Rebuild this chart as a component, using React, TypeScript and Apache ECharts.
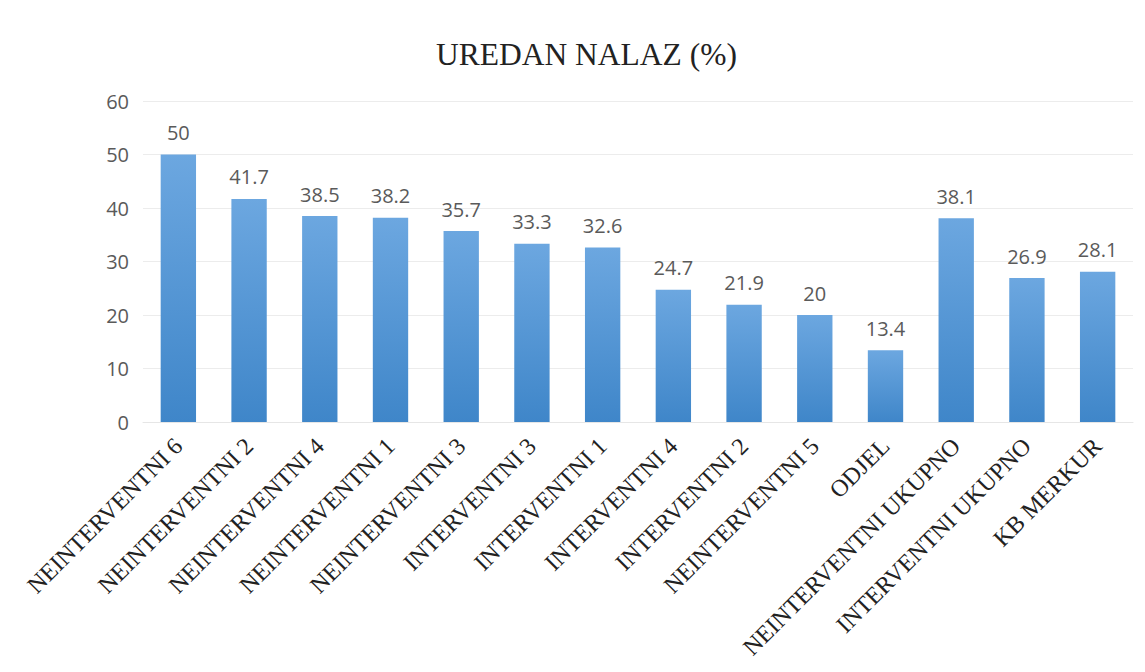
import React, { useEffect, useRef } from "react";
import * as echarts from "echarts";

const categories = [
  "NEINTERVENTNI 6",
  "NEINTERVENTNI 2",
  "NEINTERVENTNI 4",
  "NEINTERVENTNI 1",
  "NEINTERVENTNI 3",
  "INTERVENTNI 3",
  "INTERVENTNI 1",
  "INTERVENTNI 4",
  "INTERVENTNI 2",
  "NEINTERVENTNI 5",
  "ODJEL",
  "NEINTERVENTNI UKUPNO",
  "INTERVENTNI UKUPNO",
  "KB MERKUR",
];
const values = [50, 41.7, 38.5, 38.2, 35.7, 33.3, 32.6, 24.7, 21.9, 20, 13.4, 38.1, 26.9, 28.1];
const titleText = "UREDAN NALAZ (%)";

export default function App() {
  const ref = useRef<HTMLDivElement>(null);
  useEffect(() => {
    if (!ref.current) return;
    const chart = echarts.init(ref.current, null, { renderer: "svg" });
    chart.setOption({
      animation: false,
      backgroundColor: "#ffffff",
      title: {
        text: titleText,
        left: 423,
        top: 25,
        textStyle: {
          fontFamily: "Liberation Serif",
          fontSize: 31.5,
          fontWeight: "normal",
          color: "#222222",
        },
      },
      grid: { left: 135, right: 4, top: 93, bottom: 242, containLabel: false },
      xAxis: {
        type: "category",
        data: categories,
        axisLine: { show: true, lineStyle: { color: "#e6e6e6", width: 1 } },
        axisTick: { show: false },
        axisLabel: {
          rotate: 45,
          interval: 0,
          margin: 20,
          fontFamily: "Liberation Serif",
          fontSize: 24,
          color: "#222222",
        },
      },
      yAxis: {
        type: "value",
        min: 0,
        max: 60,
        interval: 10,
        axisLine: { show: false },
        axisTick: { show: false },
        splitLine: { lineStyle: { color: "#ececec", width: 1 } },
        axisLabel: {
          margin: 14,
          fontFamily: "Open Sans",
          fontSize: 20,
          color: "#5a5a5a",
        },
      },
      series: [
        {
          type: "bar",
          data: values,
          barWidth: "50%",
          itemStyle: {
            color: new echarts.graphic.LinearGradient(0, 0, 0, 1, [
              { offset: 0, color: "#6ca7e0" },
              { offset: 1, color: "#3f86c9" },
            ]),
          },
          label: {
            show: true,
            position: "top",
            distance: 12,
            fontFamily: "Open Sans",
            fontSize: 20,
            color: "#5a5a5a",
          },
        },
      ],
    });
    return () => chart.dispose();
  }, []);
  return <div ref={ref} style={{ width: 1129, height: 656 }} />;
}
